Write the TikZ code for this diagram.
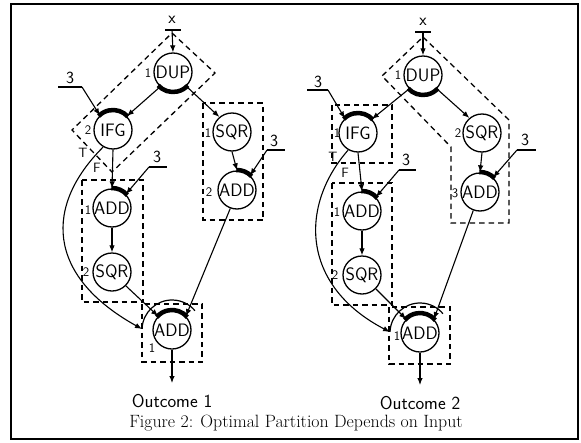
\documentclass[tikz,border=0pt]{standalone}
\usepackage{fontspec}
\usetikzlibrary{arrows.meta}
\newcommand\heavyarc[3]{\draw[thk] ([shift={(#2:20pt)}]#1.center) arc[start angle=#2,end angle=#3,radius=20pt];}
\newcommand\sanssize[1]{\sffamily\addfontfeatures{FakeBold=0.8}\fontsize{#1}{#1}\selectfont}
\tikzset{
  op/.style={circle,draw,line width=1.3pt,minimum size=38pt,inner sep=0pt,
    font=\sanssize{18}},
  edge/.style={line width=1.1pt,-{Latex[length=7pt,width=5.5pt]}},
  part/.style={line width=1.3pt,dash pattern=on 5.5pt off 4pt},
  thk/.style={line width=4.5pt},
  num/.style={font=\sanssize{13},inner sep=0pt},
  inlabel/.style={font=\sanssize{17},inner sep=1pt},
  bar/.style={line width=1.2pt},
  tf/.style={font=\sanssize{13.5},inner sep=0pt},
  outcome/.style={font=\sanssize{18.5}}
}
\begin{document}
\begin{tikzpicture}[x=1pt,y=1pt]
\useasboundingbox (0,0) rectangle (581,-442);
\draw[line width=1.6pt] (11,-4) rectangle (578,-439);

% ---------------- Outcome 1 ----------------
\node[op] (dupA) at (173,-72) {DUP};
\node[op] (ifgA) at (113,-130) {IFG};
\node[op] (sqrA) at (232,-132) {SQR};
\node[op] (addrA) at (237,-190) {ADD};
\node[op] (addlA) at (112,-208) {ADD};
\node[op] (sqlA) at (112,-272) {SQR};
\node[op] (addbA) at (172,-330) {ADD};

\node[num] at (148,-73) {1};
\node[num] at (88,-130) {2};
\node[num] at (208,-133) {1};
\node[num] at (209,-192) {2};
\node[num] at (88,-210) {1};
\node[num] at (86,-272) {2};
\node[num] at (152,-348) {1};

% inputs
\node[inlabel] (xA) at (172,-20) {x};
\coordinate (xAbar) at (172,-30);
\draw[bar] (165,-30) -- (181,-30);
\node[inlabel] (kA1) at (70,-78) {3};
\coordinate (kA1e) at (82,-87);
\draw[bar] (58,-87) -- (kA1e);
\node[inlabel] (kA2) at (157,-157) {3};
\coordinate (kA2e) at (149,-167);
\draw[bar] (kA2e) -- (167,-167);
\node[inlabel] (kA3) at (274,-141) {3};
\coordinate (kA3e) at (267,-150);
\draw[bar] (kA3e) -- (285,-150);
\coordinate (outA) at (172,-383);

% partitions
\draw[part] (172,-33) -- (215,-73) -- (112,-172) -- (72,-130) -- cycle;
\draw[part] (203,-103) rectangle (263,-220);
\draw[part] (82,-180) rectangle (143,-302);
\draw[part] (142,-304) rectangle (202,-362);

% connectors
\draw[edge] (xAbar) -- (dupA.north);
\draw[edge] (dupA.229) -- (ifgA.45);
\draw[edge] (dupA.313) -- (sqrA.130);
\draw[edge] (kA1e) -- (ifgA.132);
\draw[edge] (ifgA.south) -- (addlA.north);
\draw[edge] (kA2e) -- (addlA.45);
\draw[edge] (sqrA.south) -- (addrA.north);
\draw[edge] (kA3e) -- (addrA.48);
\draw[edge] (addlA.south) -- (sqlA.north);
\draw[edge] (sqlA.315) -- (addbA.135);
\draw[edge] (addrA.250) -- (addbA.45);
\draw[edge] (ifgA.240) .. controls (45,-205) and (45,-275) .. (142,-329);
\draw[edge] (addbA.south) -- (outA);
\node[tf] at (83,-153) {T};
\node[tf] at (97,-168) {F};

\heavyarc{dupA}{222}{318}
\heavyarc{ifgA}{42}{136}
\heavyarc{addlA}{40}{92}
\heavyarc{addrA}{43}{92}
\heavyarc{addbA}{40}{140}
\draw[line width=1.2pt] ([shift={(178:30pt)}]addbA.center) arc[start angle=178,end angle=40,radius=30pt];

\node[outcome] (oA) at (172,-401) {Outcome 1};

% ---------------- Outcome 2 ----------------
\node[op] (dupB) at (423,-75) {DUP};
\node[op] (ifgB) at (358,-133) {IFG};
\node[op] (sqrB) at (482,-133) {SQR};
\node[op] (addrB) at (480,-192) {ADD};
\node[op] (addlB) at (362,-211) {ADD};
\node[op] (sqlB) at (362,-275) {SQR};
\node[op] (addbB) at (420,-333) {ADD};

\node[num] at (398,-75) {1};
\node[num] at (337,-133) {1};
\node[num] at (458,-133) {2};
\node[num] at (455,-193) {3};
\node[num] at (337,-212) {1};
\node[num] at (335,-275) {2};
\node[num] at (397,-336) {1};

\node[inlabel] (xB) at (423,-22) {x};
\coordinate (xBbar) at (423,-32);
\draw[bar] (415,-32) -- (431,-32);
\node[inlabel] (kB1) at (318,-82) {3};
\coordinate (kB1e) at (328,-90);
\draw[bar] (307,-90) -- (kB1e);
\node[inlabel] (kB2) at (406,-160) {3};
\coordinate (kB2e) at (399,-170);
\draw[bar] (kB2e) -- (416,-170);
\node[inlabel] (kB3) at (525,-140) {3};
\coordinate (kB3e) at (517,-150);
\draw[bar] (kB3e) -- (536,-150);
\coordinate (outB) at (420,-385);

\draw[part] (423,-37) -- (509,-120) -- (509,-223) -- (451,-223) -- (451,-147) -- (382,-76) -- cycle;
\draw[part] (332,-105) rectangle (392,-163);
\draw[part] (332,-183) rectangle (392,-305);
\draw[part] (389,-307) rectangle (450,-364);

\draw[edge] (xBbar) -- (dupB.north);
\draw[edge] (dupB.225) -- (ifgB.45);
\draw[edge] (dupB.315) -- (sqrB.130);
\draw[edge] (kB1e) -- (ifgB.132);
\draw[edge] (ifgB.south) -- (addlB.north);
\draw[edge] (kB2e) -- (addlB.45);
\draw[edge] (sqrB.south) -- (addrB.north);
\draw[edge] (kB3e) -- (addrB.48);
\draw[edge] (addlB.south) -- (sqlB.north);
\draw[edge] (sqlB.315) -- (addbB.135);
\draw[edge] (addrB.250) -- (addbB.45);
\draw[edge] (ifgB.240) .. controls (300,-205) and (300,-285) .. (390,-332);
\draw[edge] (addbB.south) -- (outB);
\node[tf] at (333,-157) {T};
\node[tf] at (345,-173) {F};

\heavyarc{dupB}{222}{318}
\heavyarc{ifgB}{42}{136}
\heavyarc{addlB}{40}{92}
\heavyarc{addrB}{43}{92}
\heavyarc{addbB}{40}{140}
\draw[line width=1.2pt] ([shift={(178:30pt)}]addbB.center) arc[start angle=178,end angle=40,radius=30pt];

\node[outcome] (oB) at (420,-403) {Outcome 2};

\node[font=\addfontfeatures{FakeBold=0.5}\fontsize{17.8}{17.8}\selectfont] (cap) at (296,-423) {Figure 2: Optimal Partition Depends on Input};
\end{tikzpicture}
\end{document}
